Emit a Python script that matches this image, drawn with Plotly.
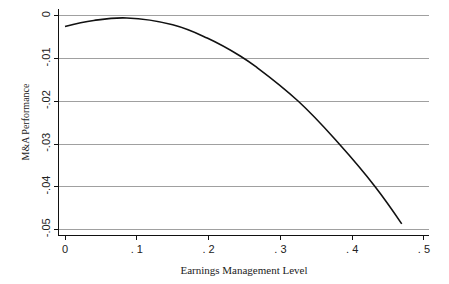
import plotly.graph_objects as go

em_level = [0.0, 0.04, 0.086, 0.150, 0.198, 0.244, 0.2674, 0.325, 0.382, 0.432, 0.469]
ma_perf = [-0.0025, -0.0011, -0.0005, -0.0021, -0.0052, -0.0094, -0.0121,
           -0.0200, -0.0300, -0.0400, -0.0487]

x_ticks = [0, 0.1, 0.2, 0.3, 0.4, 0.5]
x_labels = ["0", ". 1", ". 2", ". 3", ". 4", ". 5"]
y_ticks = [0, -0.01, -0.02, -0.03, -0.04, -0.05]
y_labels = ["0", "-.01", "-.02", "-.03", "-.04", "-.05"]

fig = go.Figure()
fig.add_trace(go.Scatter(
    x=em_level, y=ma_perf, mode="lines",
    line=dict(color="#111111", width=1.6, shape="spline", smoothing=1.2),
    showlegend=False, hoverinfo="skip",
))

fig.update_layout(
    width=449, height=284,
    margin=dict(l=59, r=20, t=9, b=46),
    paper_bgcolor="white", plot_bgcolor="white",
    font=dict(family="Liberation Sans, Arial, sans-serif", size=11, color="#222222"),
)
fig.update_xaxes(
    range=[-0.0084, 0.507],
    tickvals=x_ticks, ticktext=x_labels,
    showgrid=False, zeroline=False,
    showline=True, linecolor="#111111", linewidth=1.2,
    ticks="outside", ticklen=4, tickcolor="#111111", tickwidth=1,
    title=dict(text="Earnings Management Level",
               font=dict(family="Liberation Serif, Times New Roman, serif", size=11, color="#222222"),
               standoff=12),
)
fig.update_yaxes(
    range=[-0.0513, 0.0016],
    tickvals=y_ticks, ticktext=y_labels, tickangle=-90,
    showgrid=True, gridcolor="#a0a0a0", gridwidth=1, zeroline=False,
    showline=True, linecolor="#111111", linewidth=1.2,
    ticks="outside", ticklen=4, tickcolor="#111111", tickwidth=1,
    title=dict(text="M&A Performance",
               font=dict(family="Liberation Serif, Times New Roman, serif", size=10, color="#222222"),
               standoff=8),
)

fig.write_html("out.html")
